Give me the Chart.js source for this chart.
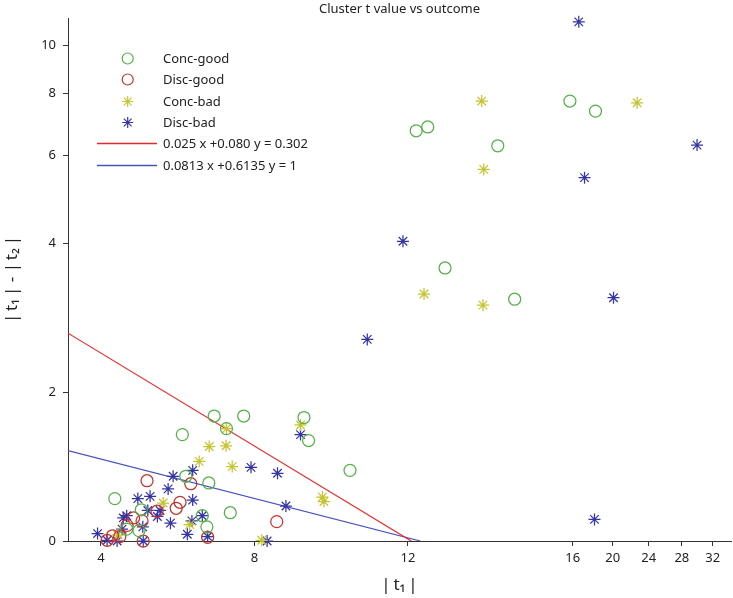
<!DOCTYPE html>
<html>
<head>
<meta charset="utf-8">
<script src="https://cdn.jsdelivr.net/npm/chart.js@4.4.1/dist/chart.umd.min.js"></script>
<style>
  body { margin:0; background:#fff; }
  #wrap { width:733px; height:598px; }
</style>
</head>
<body>
<div id="wrap"><canvas id="c" width="733" height="598"></canvas></div>
<script>
// Cluster t value vs outcome
const xTicks = [4, 8, 12, 16, 20, 24, 28, 32];
const yTicks = [0, 2, 4, 6, 8, 10];

// [|t1|, |t1|-|t2|]
const concGood = [
    [6.95, 1.68], [7.72, 1.68], [9.29, 1.66], [7.27, 1.51], [6.12, 1.43], [9.41, 1.35],
    [10.49, 0.95], [6.81, 0.78], [6.21, 0.87], [4.36, 0.57], [7.37, 0.38], [6.76, 0.19],
    [6.64, 0.34], [5.05, 0.42], [4.99, 0.14], [4.67, 0.16],
    [12.20, 6.73], [12.48, 6.85], [15.93, 7.72], [18.22, 7.37], [14.18, 6.28],
    [12.90, 3.67], [14.59, 3.25]
];
const discGood = [
    [5.20, 0.81], [6.34, 0.77], [6.06, 0.52], [5.96, 0.44], [8.58, 0.26], [5.46, 0.40],
    [4.85, 0.31], [5.07, 0.27], [5.10, 0.00], [6.78, 0.05], [4.16, 0.01], [4.30, 0.07],
    [4.49, 0.06], [4.68, 0.21]
];
const concBad = [
    [7.27, 1.51], [6.82, 1.27], [7.26, 1.28], [6.56, 1.07], [7.42, 1.00], [9.20, 1.56],
    [9.77, 0.59], [9.81, 0.53], [5.62, 0.51], [6.31, 0.22], [8.19, 0.01], [4.44, 0.08],
    [13.79, 7.72], [22.68, 7.66], [13.84, 5.63], [12.39, 3.32], [13.82, 3.17]
];
const discBad = [
    [9.20, 1.43], [7.91, 0.99], [8.60, 0.91], [8.82, 0.47], [6.39, 0.95], [5.88, 0.87],
    [5.75, 0.70], [4.96, 0.57], [5.28, 0.60], [6.39, 0.55], [4.67, 0.34], [5.22, 0.41],
    [5.54, 0.41], [5.47, 0.33], [5.09, 0.19], [5.81, 0.24], [6.37, 0.27], [6.64, 0.34],
    [6.25, 0.09], [6.78, 0.06], [3.91, 0.10], [4.16, 0.01], [4.42, 0.00], [5.10, 0.00],
    [8.33, 0.00], [4.55, 0.16], [4.58, 0.31],
    [16.57, 11.13], [17.13, 5.42], [29.94, 6.30], [11.87, 4.04], [20.09, 3.27],
    [10.94, 2.71], [18.12, 0.29]
];

// boundary lines  a*x + b*y = c
const redLine = { a: 0.025, b: 0.080, c: 0.302 };
const blueLine = { a: 0.0813, b: 0.6135, c: 1 };
const xStart = 3.14;

const seriesLabels = ['Conc-good', 'Disc-good', 'Conc-bad', 'Disc-bad'];
const lineLabels = ['0.025 x +0.080 y = 0.302', '0.0813 x +0.6135 y = 1'];

const colors = {
    green: 'rgb(84,176,72)',
    red: 'rgb(196,52,46)',
    yellow: 'rgb(196,196,48)',
    blue: 'rgb(52,52,165)',
    redLine: 'rgb(232,40,40)',
    blueLine: 'rgb(72,82,190)'
};

// --- axis warps (linear low part, compressed upper part) ---
const warps = {
    x: {
        fwd: v => v <= 12 ? v : (v <= 16 ? 12 + (v - 12) * 1.074 : 16.297 + (Math.sqrt(v) - 4) * 2.2),
        min: 3.14, max: 20.42, ticks: xTicks
    },
    y: {
        fwd: v => v <= 4 ? v : 4 + 2.91 * Math.log(v / 4),
        min: 0, max: 7.03, ticks: yTicks
    }
};

class WarpScale extends Chart.LinearScale {
    static id = 'warp';
    static defaults = {};
    getPixelForValue(v) {
        if (v === null || v === undefined) return NaN;
        return super.getPixelForValue(warps[this.id].fwd(v));
    }
    buildTicks() {
        return warps[this.id].ticks.map(v => ({ value: v }));
    }
    // let edge tick labels hang over the plot edge like the original
    _calculatePadding() {
        this.paddingLeft = this.paddingRight = this.paddingTop = this.paddingBottom = 0;
    }
}
Chart.register(WarpScale);

const toPts = arr => arr.map(([x, y]) => ({ x, y }));
const linePts = l => [{ x: xStart, y: (l.c - l.a * xStart) / l.b }, { x: l.c / l.a, y: 0 }];

const FONT = "'Noto Sans', 'Open Sans', sans-serif";
const TS = '\u2009';

const legendPlugin = {
    id: 'insideLegend',
    afterDraw(chart) {
        const ctx = chart.ctx;
        const { left, right } = chart.chartArea;
        ctx.save();
        // title
        ctx.fillStyle = '#222';
        ctx.font = `13px ${FONT}`;
        ctx.textAlign = 'center';
        ctx.textBaseline = 'middle';
        ctx.fillText('Cluster t value vs outcome', (left + right) / 2, 9);

        const rows = [
            { label: seriesLabels[0], style: 'circle', color: colors.green },
            { label: seriesLabels[1], style: 'circle', color: colors.red },
            { label: seriesLabels[2], style: 'star', color: colors.yellow },
            { label: seriesLabels[3], style: 'star', color: colors.blue },
            { label: lineLabels[0], line: true, color: colors.redLine },
            { label: lineLabels[1], line: true, color: colors.blueLine }
        ];
        ctx.font = `13px ${FONT}`;
        ctx.textAlign = 'left';
        rows.forEach((r, i) => {
            const y = Math.round(58 + i * 21.3) + 0.5;
            if (r.line) {
                ctx.strokeStyle = r.color;
                ctx.lineWidth = 1.3;
                ctx.beginPath();
                ctx.moveTo(97, y);
                ctx.lineTo(157, y);
                ctx.stroke();
            } else {
                ctx.strokeStyle = r.color;
                ctx.fillStyle = 'rgba(0,0,0,0)';
                ctx.lineWidth = 1.2;
                Chart.helpers.drawPoint(ctx, { pointStyle: r.style, radius: 5.5, borderWidth: 1.2, rotation: 0 }, 127.7, y);
            }
            ctx.fillStyle = '#222';
            ctx.fillText(r.label, 163, y + 0.5);
        });
        ctx.restore();
    }
};

const pointSet = (label, data, style, color) => ({
    type: 'scatter',
    label,
    data: toPts(data),
    pointStyle: style,
    pointRadius: 6,
    pointBorderWidth: 1.25,
    borderColor: color,
    backgroundColor: 'rgba(0,0,0,0)',
    clip: false
});

const lineSet = (label, data, color) => ({
    type: 'line',
    label,
    data,
    borderColor: color,
    borderWidth: 1.2,
    pointRadius: 0,
    fill: false,
    tension: 0
});

new Chart(document.getElementById('c').getContext('2d'), {
    type: 'scatter',
    data: {
        datasets: [
            pointSet(seriesLabels[0], concGood, 'circle', colors.green),
            pointSet(seriesLabels[1], discGood, 'circle', colors.red),
            pointSet(seriesLabels[2], concBad, 'star', colors.yellow),
            pointSet(seriesLabels[3], discBad, 'star', colors.blue),
            lineSet(lineLabels[0], linePts(redLine), colors.redLine),
            lineSet(lineLabels[1], linePts(blueLine), colors.blueLine)
        ]
    },
    options: {
        responsive: false,
        animation: false,
        layout: { autoPadding: false, padding: { top: 18, right: 2, left: 0, bottom: 0 } },
        plugins: { legend: { display: false }, title: { display: false }, tooltip: { enabled: false } },
        scales: {
            x: {
                type: 'warp',
                min: warps.x.min,
                max: warps.x.max,
                afterFit: s => { s.height = 57; },
                grid: { drawOnChartArea: false, tickLength: 5, color: '#333' },
                border: { color: '#333', width: 1 },
                ticks: { autoSkip: false, maxRotation: 0, padding: 4, color: '#222', font: { family: FONT, size: 13 }, callback: v => String(v) },
                title: { display: true, text: '|' + TS + 't₁' + TS + '|', color: '#222', font: { family: FONT, size: 17 }, padding: { top: 0, bottom: 3 } }
            },
            y: {
                type: 'warp',
                min: warps.y.min,
                max: warps.y.max,
                afterFit: s => { s.width = 68; },
                grid: { drawOnChartArea: false, tickLength: 5, color: '#333' },
                border: { color: '#333', width: 1 },
                ticks: { autoSkip: false, padding: 7, color: '#222', font: { family: FONT, size: 13 }, callback: v => String(v) },
                title: { display: true, text: '|' + TS + 't₁' + TS + '| - |' + TS + 't₂' + TS + '|', color: '#222', font: { family: FONT, size: 17 }, padding: { top: 2, bottom: 0 } }
            }
        }
    },
    plugins: [legendPlugin]
});
</script>
</body>
</html>
